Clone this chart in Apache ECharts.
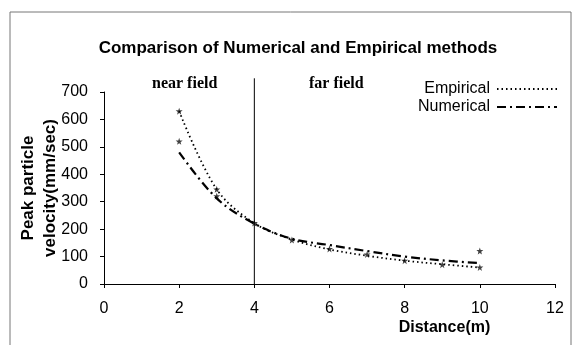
<!DOCTYPE html>
<html><head><meta charset="utf-8">
<script src="https://cdn.jsdelivr.net/npm/echarts@6/dist/echarts.min.js"></script>
<style>html,body{margin:0;padding:0;background:#fff}#c{width:579px;height:345px}</style>
</head><body><div id="c"></div>
<script>
var distance = [2, 3, 4, 5, 6, 7, 8, 9, 10];
var empirical = [630, 345, 222, 162, 126, 103, 85, 72, 60];
var numerical = [480, 312, 220, 165, 142, 120, 100, 86, 76];
var measuredX = [2, 2, 3, 3, 4, 5, 6, 7, 8, 9, 10, 10];
var measuredY = [630, 520, 345, 320, 222, 160, 128, 108, 85, 70, 60, 120];
var xTicks = [0, 2, 4, 6, 8, 10, 12];
var yTicks = [0, 100, 200, 300, 400, 500, 600, 700];
var boundaryX = [4, 4];
var boundaryY = [0, 750];

function pairs(xs, ys){ return xs.map(function(x,i){ return [x, ys[i]]; }); }

var chart = echarts.init(document.getElementById('c'), null, {renderer:'canvas'});
var font = 'Arial, "Liberation Sans", sans-serif';
var serif = 'bold 16px "Liberation Serif", "DejaVu Serif", serif';
chart.setOption({
  animation:false,
  backgroundColor:'#fff',
  title:{text:'Comparison of Numerical and Empirical methods', left:293, top:35, textAlign:'center',
    textStyle:{fontFamily:font, fontWeight:'bold', fontSize:17, color:'#000'}},
  legend:{orient:'vertical', right:16, top:76, align:'right', itemWidth:60, itemHeight:10, itemGap:2,
    data:['Empirical','Numerical'],
    itemStyle:{color:'rgba(0,0,0,0)', borderColor:'rgba(0,0,0,0)', borderWidth:0},
    textStyle:{fontFamily:font, fontSize:16, color:'#000', padding:[0,2,0,0]}},
  grid:{left:104, right:24, top:92, bottom:61, containLabel:false},
  xAxis:{type:'value', min:xTicks[0], max:xTicks[xTicks.length-1], interval:2,
    name:'Distance(m)', nameLocation:'middle', nameGap:36, nameMoveOverlap:false,
    nameTextStyle:{fontFamily:font, fontWeight:'bold', fontSize:16, color:'#000', padding:[0,0,0,230]},
    axisLine:{lineStyle:{color:'#000', width:1}}, axisTick:{inside:false, length:4, lineStyle:{color:'#000'}},
    axisLabel:{fontFamily:font, fontSize:16, color:'#000', margin:17}, splitLine:{show:false}},
  yAxis:{type:'value', min:yTicks[0], max:yTicks[yTicks.length-1], interval:100,
    name:'Peak particle\nvelocity(mm/sec)', nameLocation:'middle', nameGap:43, nameRotate:90, nameMoveOverlap:false,
    nameTextStyle:{fontFamily:font, fontWeight:'bold', fontSize:17, color:'#000', lineHeight:22},
    axisLine:{show:true, lineStyle:{color:'#000', width:1}}, axisTick:{show:true, length:4, lineStyle:{color:'#000'}},
    axisLabel:{fontFamily:font, fontSize:16, color:'#000', margin:16}, splitLine:{show:false}},
  graphic:[
    {type:'rect', shape:{x:10, y:12, width:561, height:340}, style:{fill:'none', stroke:'#777', lineWidth:1}},
    {type:'text', left:152, top:76, style:{text:'near field', font:serif, fill:'#000'}},
    {type:'text', left:309, top:76, style:{text:'far field', font:serif, fill:'#000'}}
  ],
  series:[
    {name:'Empirical', type:'line', smooth:0.35, data:pairs(distance, empirical), symbol:'none',
      lineStyle:{color:'#000', width:1.8, type:[1.5,3]}, itemStyle:{color:'#000'}},
    {name:'Numerical', type:'line', smooth:0.35, data:pairs(distance, numerical), symbol:'none',
      lineStyle:{color:'#000', width:2.2, type:[9,4,2,4]}, itemStyle:{color:'#000'}},
    {name:'Boundary', type:'line', data:pairs(boundaryX, boundaryY), symbol:'none', clip:false,
      lineStyle:{color:'#000', width:1, type:'solid'}, silent:true},
    {name:'Measured', type:'scatter', data:pairs(measuredX, measuredY), symbol:'path://M0,-5L1.2,-1.6L5,-1.6L2,0.8L3,4.5L0,2.2L-3,4.5L-2,0.8L-5,-1.6L-1.2,-1.6Z',
      symbolSize:7, itemStyle:{color:'#111'}}
  ]
});
</script></body></html>
